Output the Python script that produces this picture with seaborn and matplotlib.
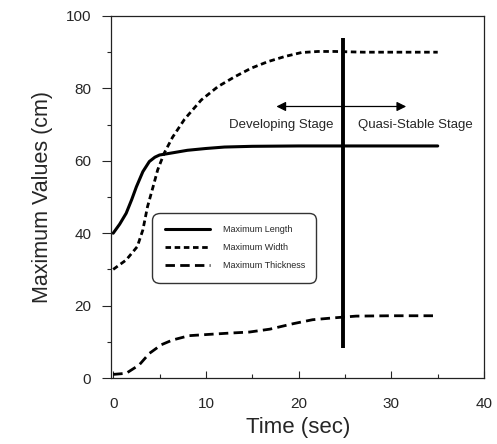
import matplotlib
matplotlib.use("Agg")
import matplotlib.pyplot as plt
import seaborn as sns
import pandas as pd
from matplotlib.ticker import MultipleLocator

# ---- data ----
length_t = [0, 0.7, 1.4, 2.0, 2.5, 3.2, 3.9, 4.5, 5.0, 6.4, 8, 10, 12, 15, 20, 25, 30, 35]
length_v = [40, 42.5, 45.5, 49.3, 52.8, 57.0, 59.8, 61.0, 61.6, 62.2, 62.9, 63.4, 63.8, 64.0, 64.1, 64.1, 64.1, 64.1]

width_t = [0, 1.4, 2.6, 3.2, 3.7, 4.3, 4.8, 5.5, 6.4, 7.7, 9.5, 11.3, 13.1, 14.9,
           16.7, 18.5, 20.3, 22.1, 23.9, 27, 30, 35]
width_v = [30, 32.6, 36.3, 40.9, 47.3, 52.8, 57.5, 62.1, 66.5, 71.5, 76.8, 80.5, 83.2, 85.6,
           87.4, 88.8, 89.9, 90.2, 90.2, 90.0, 90.0, 90.0]

thick_t = [0, 1.4, 2.8, 3.9, 5.2, 6.4, 8.2, 10, 12.5, 14.7, 16.9, 19.4, 21.5, 23.7, 26.2, 30, 35]
thick_v = [1, 1.3, 3.6, 6.8, 9.2, 10.5, 11.7, 12.0, 12.4, 12.7, 13.5, 15.0, 16.1, 16.6, 17.1, 17.2, 17.2]

series_names = ["Maximum Length", "Maximum Width", "Maximum Thickness"]

stage_boundary = 24.8
boundary_range = (8.3, 94)
arrow_level = 75
arrow_ends = (17.6, 31.6)
stage_labels = ["Developing Stage", "Quasi-Stable Stage"]
stage_label_x = [18.1, 32.6]
stage_label_y = 69.8

x_ticks = [0, 10, 20, 30, 40]
y_ticks = [0, 20, 40, 60, 80, 100]

# ---- build long-form table ----
df = pd.concat([
    pd.DataFrame({"t": length_t, "v": length_v, "series": series_names[0]}),
    pd.DataFrame({"t": width_t, "v": width_v, "series": series_names[1]}),
    pd.DataFrame({"t": thick_t, "v": thick_v, "series": series_names[2]}),
], ignore_index=True)

sns.set_style("ticks")
plt.rcParams["font.family"] = ["Liberation Sans", "DejaVu Sans"]

fig = plt.figure(figsize=(4.97, 4.44), dpi=100)
ax = fig.add_axes([0.224, 0.1486, 0.750, 0.8154])

styles = {
    series_names[0]: dict(lw=2.2, ls="-"),
    series_names[1]: dict(lw=2.0, dashes=(2.0, 1.3)),
    series_names[2]: dict(lw=2.0, dashes=(3.4, 1.9)),
}
for name in series_names:
    sub = df[df["series"] == name]
    st = styles[name]
    sns.lineplot(data=sub, x="t", y="v", ax=ax, color="black", lw=st["lw"],
                 label=name, estimator=None, sort=False)
    if "dashes" in st:
        ax.lines[-1].set_dashes(st["dashes"])

# stage boundary and arrow
ax.vlines(stage_boundary, boundary_range[0], boundary_range[1], color="black", lw=2.8)
for end in arrow_ends:
    ax.annotate("", xy=(end, arrow_level), xytext=(stage_boundary, arrow_level),
                arrowprops=dict(arrowstyle="-|>", color="black", lw=0.9, mutation_scale=14,
                                shrinkA=0, shrinkB=0))
for lbl, lx in zip(stage_labels, stage_label_x):
    ax.text(lx, stage_label_y, lbl, ha="center", va="center", fontsize=9.5)

ax.set_xlim(-0.2, 40)
ax.set_ylim(0, 100)
ax.set_xticks(x_ticks)
ax.set_yticks(y_ticks)
ax.xaxis.set_minor_locator(MultipleLocator(5))
ax.yaxis.set_minor_locator(MultipleLocator(10))
ax.tick_params(axis="x", which="major", direction="in", length=5, width=0.8, pad=14, labelsize=11)
ax.tick_params(axis="x", which="minor", direction="in", length=3, width=0.8)
ax.tick_params(axis="y", which="major", direction="out", length=6.5, width=0.8, pad=8, labelsize=11)
ax.tick_params(axis="y", which="minor", direction="out", length=3, width=0.8)
for sp in ax.spines.values():
    sp.set_visible(True)
    sp.set_linewidth(0.9)
    sp.set_color("#222222")

ax.set_xlabel("Time (sec)", fontsize=16, labelpad=4)
ax.set_ylabel("Maximum Values (cm)", fontsize=15.5, labelpad=9)

leg = ax.legend(loc="upper left", bbox_to_anchor=(0.11, 0.257, 0.44, 0.2), mode="expand",
                borderaxespad=0, fontsize=6.5, frameon=True, fancybox=True,
                handlelength=5.0, labelspacing=1.0, borderpad=1.4, handletextpad=1.4)
fr = leg.get_frame()
fr.set_edgecolor("#333333")
fr.set_linewidth(1.0)
fr.set_alpha(1)
fr.set_boxstyle("round,pad=0,rounding_size=0.8")

fig.savefig("out.png", dpi=100, facecolor="white")
